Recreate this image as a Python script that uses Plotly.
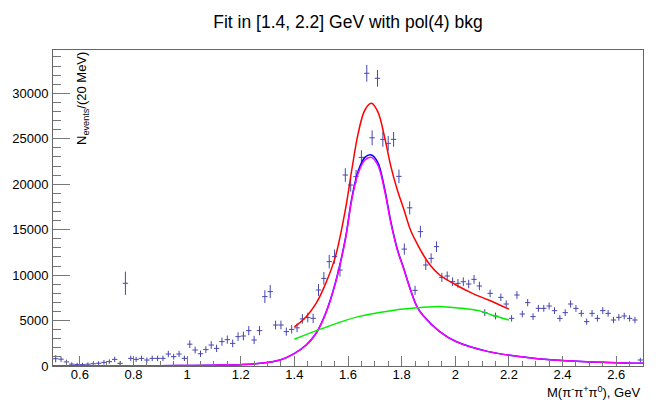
import plotly.graph_objects as go

# ---------------- data ----------------
bin_centers = [
    0.51, 0.53, 0.55, 0.57, 0.59, 0.61, 0.63, 0.65, 0.67, 0.69,
    0.71, 0.73, 0.75, 0.77, 0.79, 0.81, 0.83, 0.85, 0.87, 0.89,
    0.91, 0.93, 0.95, 0.97, 0.99, 1.01, 1.03, 1.05, 1.07, 1.09,
    1.11, 1.13, 1.15, 1.17, 1.19, 1.21, 1.23, 1.25, 1.27, 1.29,
    1.31, 1.33, 1.35, 1.37, 1.39, 1.41, 1.43, 1.45, 1.47, 1.49,
    1.51, 1.53, 1.55, 1.57, 1.59, 1.61, 1.63, 1.65, 1.67, 1.69,
    1.71, 1.73, 1.75, 1.77, 1.79, 1.81, 1.83, 1.85, 1.87, 1.89,
    1.91, 1.93, 1.95, 1.97, 1.99, 2.01, 2.03, 2.05, 2.07, 2.09,
    2.11, 2.13, 2.15, 2.17, 2.19, 2.21, 2.23, 2.25, 2.27, 2.29,
    2.31, 2.33, 2.35, 2.37, 2.39, 2.41, 2.43, 2.45, 2.47, 2.49,
    2.51, 2.53, 2.55, 2.57, 2.59, 2.61, 2.63, 2.65, 2.67, 2.69,
]
counts = [
    800, 750, 450, 200, 150, 150, 200, 250, 300, 400,
    480, 730, 290, 9100, 840, 730, 840, 660, 840, 840,
    840, 1320, 1030, 1320, 840, 2400, 1760, 1350, 1800, 2310,
    1940, 2680, 2900, 2490, 3230, 3300, 3890, 2860, 3890, 7630,
    8180, 4510, 4510, 3780, 4030, 4200, 5180, 5330, 5240, 8360,
    9640, 11480, 12030, 10560, 21010, 19910, 20830, 22950, 32200, 25100,
    31650, 24930, 24490, 24930, 20860, 12860, 17400, 8320, 14780, 11110,
    11840, 13130, 9750, 9900, 9270, 9090, 9270, 9020, 9530, 8800,
    5870, 7990, 5500, 7550, 6820, 5240, 7810, 5720, 6970, 5430,
    6340, 6340, 6600, 6090, 5240, 5870, 6820, 6340, 5790, 4880,
    5790, 5240, 6090, 5790, 5060, 5350, 5500, 5240, 5060, 660,
]
errors = [
    400, 300, 250, 200, 200, 200, 200, 200, 220, 250,
    250, 300, 220, 1280, 300, 280, 300, 280, 300, 300,
    300, 350, 320, 350, 300, 420, 380, 350, 380, 420,
    400, 450, 450, 420, 480, 480, 500, 450, 500, 700,
    720, 480, 480, 450, 460, 470, 520, 530, 520, 650,
    700, 750, 780, 730, 750, 730, 740, 780, 920, 820,
    920, 820, 800, 820, 750, 620, 720, 500, 650, 550,
    560, 580, 500, 500, 480, 480, 480, 470, 490, 470,
    380, 420, 370, 420, 400, 360, 420, 370, 400, 360,
    380, 380, 390, 370, 360, 370, 400, 380, 370, 340,
    370, 360, 380, 370, 350, 360, 360, 350, 350, 250,
]
half_bin = 0.01

# total fit (red), fitted in [1.4, 2.2]
total_x = [1.40, 1.444, 1.481, 1.517, 1.553, 1.59, 1.614, 1.638, 1.663, 1.687,
           1.711, 1.736, 1.76, 1.784, 1.809, 1.833, 1.857, 1.881, 1.906, 1.942,
           2.003, 2.064, 2.124, 2.20]
total_y = [4300, 5430, 6890, 9090, 12030, 17160, 21560, 25590, 28160, 28890,
           27980, 25230, 21930, 19360, 17160, 14960, 13490, 12210, 11110, 10010,
           8910, 7990, 7260, 6250]

# signal (blue) and signal component (magenta)
sig_x = [0.5, 0.7, 0.9, 1.0, 1.1, 1.2, 1.274, 1.347, 1.396, 1.444,
         1.481, 1.517, 1.553, 1.59, 1.614, 1.638, 1.663, 1.687, 1.711, 1.736,
         1.76, 1.784, 1.809, 1.833, 1.857, 1.881, 1.942, 2.003, 2.124, 2.246,
         2.367, 2.489, 2.7]
blue_y = [10, 20, 40, 60, 90, 150, 290, 660, 1300, 2310,
          3600, 5820, 9150, 13980, 18450, 21450, 22950, 23210, 22400, 19600,
          15850, 12850, 10620, 8400, 6560, 5520, 3790, 2690, 1580, 1030,
          660, 480, 290]
mag_y = [10, 20, 40, 60, 90, 150, 290, 660, 1300, 2310,
         3590, 5790, 9090, 13860, 18260, 21190, 22660, 22950, 22110, 19360,
         15690, 12760, 10560, 8360, 6530, 5500, 3780, 2680, 1580, 1030,
         660, 480, 290]

# background pol(4) (green)
bkg_x = [1.40, 1.505, 1.638, 1.76, 1.881, 1.954, 2.027, 2.088, 2.136, 2.20]
bkg_y = [2950, 4140, 5430, 6090, 6450, 6530, 6340, 6090, 5610, 5050]

title_text = "Fit in [1.4, 2.2] GeV with pol(4) bkg"
ytitle = "N<sub>events</sub>/(20 MeV)"
xtitle = "M(π<sup>-</sup>π<sup>+</sup>π<sup>0</sup>), GeV"

FONT = "Liberation Sans, Arial, Helvetica, sans-serif"
PT_COLOR = "rgb(70,70,175)"

fig = go.Figure()
fig.add_trace(go.Scatter(
    x=bin_centers, y=counts, mode="markers",
    marker=dict(size=1, opacity=0, color=PT_COLOR),
    error_y=dict(type="data", array=errors, width=0, thickness=1, color=PT_COLOR),
    error_x=dict(type="constant", value=half_bin, width=0, thickness=1, color=PT_COLOR),
    showlegend=False, hoverinfo="skip", cliponaxis=False,
))
fig.add_trace(go.Scatter(x=sig_x, y=blue_y, mode="lines",
                         line=dict(color="#0000ff", width=1.5, shape="spline"), showlegend=False))
fig.add_trace(go.Scatter(x=sig_x, y=mag_y, mode="lines",
                         line=dict(color="#ff00ff", width=1.5, shape="spline"), showlegend=False))
fig.add_trace(go.Scatter(x=bkg_x, y=bkg_y, mode="lines",
                         line=dict(color="#00ee00", width=1.5, shape="spline"), showlegend=False))
fig.add_trace(go.Scatter(x=total_x, y=total_y, mode="lines",
                         line=dict(color="#ff0000", width=1.5, shape="spline"), showlegend=False))

L, R, T, B = 41, 24, 50, 34
W, H = 667, 400

fig.update_layout(
    width=W, height=H,
    margin=dict(l=L, r=R, t=T, b=B, pad=0),
    paper_bgcolor="white", plot_bgcolor="white",
    font=dict(family=FONT, size=13, color="black"),
    title=dict(text=title_text, x=348 / W, xanchor="center", y=1 - 22 / H, yanchor="middle",
               font=dict(size=17.5, family=FONT)),
)
fig.update_xaxes(
    range=[0.5, 2.7], tick0=0, dtick=0.2, ticks="inside", ticklen=10, tickcolor="#777",
    minor=dict(dtick=0.05, tick0=0, ticks="inside", ticklen=5, tickcolor="#777"),
    showgrid=False, zeroline=False, showline=True, linecolor="#666", linewidth=1, mirror=True,
    tickfont=dict(size=13), ticklabelstandoff=-4,
)
fig.update_yaxes(
    range=[0, 34760], tick0=0, dtick=5000, tickformat="d", ticks="inside", ticklen=17, tickcolor="#777",
    minor=dict(dtick=1000, ticks="inside", ticklen=8, tickcolor="#777"),
    showgrid=False, zeroline=False, showline=True, linecolor="#666", linewidth=1, mirror=True,
    tickfont=dict(size=13), ticklabelstandoff=1,
)
pw = W - L - R
ph = H - T - B
fig.add_annotation(text=ytitle, xref="paper", yref="paper",
                   x=(71 - L) / pw, y=1.0, xanchor="center", yanchor="top",
                   textangle=-90, showarrow=False, font=dict(size=13, family=FONT))
fig.add_annotation(text=xtitle, xref="paper", yref="paper",
                   x=(642 - L) / pw, y=-(392 - (H - B)) / ph, xanchor="right", yanchor="middle",
                   showarrow=False, font=dict(size=13, family=FONT))

fig.write_html("out.html")
